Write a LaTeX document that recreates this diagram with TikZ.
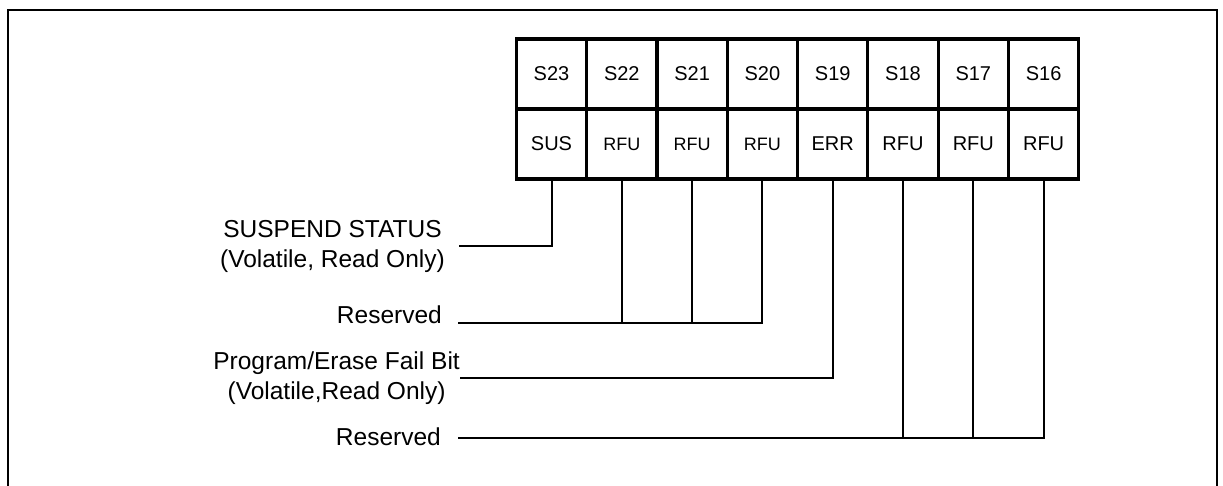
\documentclass[tikz,border=0pt]{standalone}
\usepackage{fontspec}
\setmainfont{Liberation Sans}
\usetikzlibrary{positioning}

\tikzset{
  cell/.style={draw, line width=3.2pt, minimum width=70.3pt, minimum height=70pt,
    inner sep=0pt, font=\fontsize{20}{24}\selectfont},
  cellsm/.style={cell, font=\fontsize{18}{22}\selectfont},
  wire/.style={line width=2pt},
  lbl/.style={align=center, inner sep=0pt, font=\fontsize{24.5}{30}\selectfont},
}

\begin{document}
\begin{tikzpicture}[x=1pt, y=-1pt]
  \useasboundingbox (0,0) rectangle (1223,485);
  % outer frame, open at the bottom
  \draw[line width=2.7pt] (8,490) -- (8,10) -- (1217,10) -- (1217,490);

  % register bits S23..S16
  \foreach \n/\f/\s [count=\i from 0] in {23/SUS/cell, 22/RFU/cellsm, 21/RFU/cellsm,
      20/RFU/cellsm, 19/ERR/cell, 18/RFU/cell, 17/RFU/cell, 16/RFU/cell} {
    \node[cell] (s\n) at (551.5+70.3*\i, 74) {S\n};
    \node[\s] (f\n) at (551.5+70.3*\i, 144) {\f};
  }

  % labels
  \node[lbl, anchor=east] (sus) at (445,246) {SUSPEND STATUS\\(Volatile, Read Only)};
  \node[lbl, anchor=base east] (res1) at (442,323) {Reserved};
  \node[lbl, anchor=east] (err) at (460,378) {Program/Erase Fail Bit\\(Volatile,Read Only)};
  \node[lbl, anchor=base east] (res2) at (441,445) {Reserved};

  \coordinate (c1) at ([xshift=14pt]sus.east);
  \coordinate (c2) at ([xshift=16pt]res1.base east);
  \coordinate (c3) at (err.east);
  \coordinate (c4) at ([xshift=17pt, yshift=7pt]res2.base east);

  % connectors
  \draw[wire] (c1) -| (f23.south);
  \foreach \n in {22,21} \draw[wire] (f\n.south) -- (f\n.south |- c2);
  \draw[wire] (c2) -| (f20.south);
  \draw[wire] (c3) -| (f19.south);
  \foreach \n in {18,17} \draw[wire] (f\n.south) -- (f\n.south |- c4);
  \draw[wire] (c4) -| (f16.south);
\end{tikzpicture}
\end{document}
